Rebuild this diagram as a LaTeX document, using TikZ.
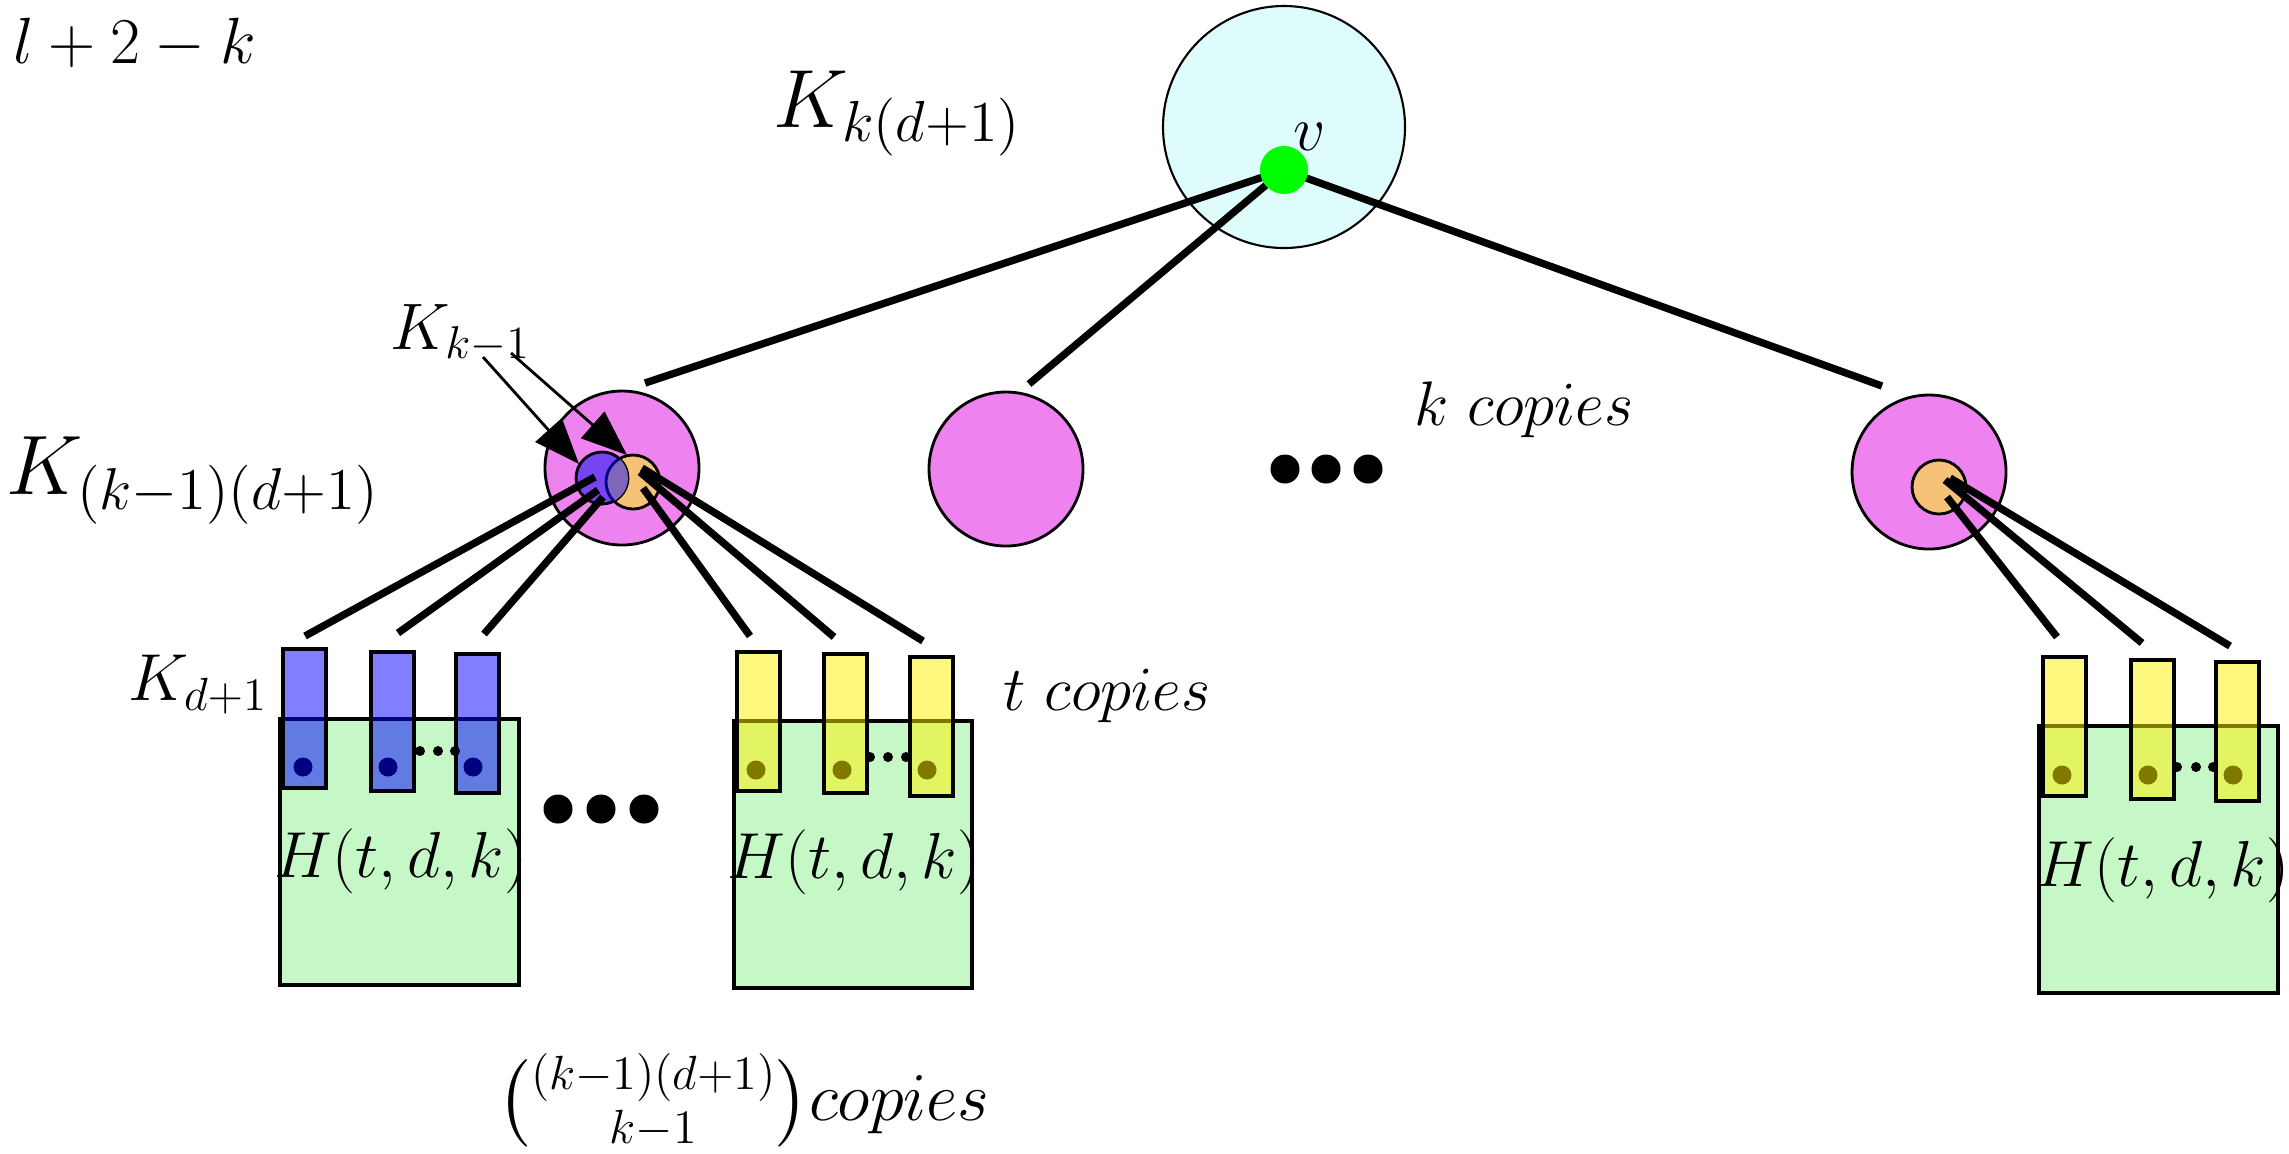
\RequirePackage{fix-cm}
\documentclass[tikz,border=0pt]{standalone}
\usepackage{amsmath}
\usetikzlibrary{arrows.meta}
\newlength\pxu \setlength\pxu{0.01cm}
\newcommand\setfs[1]{\fontsize{#1}{#1}\selectfont}
\definecolor{capcyan}{RGB}{223,252,252}
\definecolor{pinkv}{RGB}{238,130,238}
\definecolor{blueK}{RGB}{118,68,240}
\definecolor{orangeK}{RGB}{246,194,120}
\definecolor{mixK}{RGB}{128,102,186}
\definecolor{boxgreen}{RGB}{198,247,198}
\definecolor{navyline}{RGB}{0,0,128}
\begin{document}
\begin{tikzpicture}[x=1\pxu,y=-1\pxu,
  disc/.style={circle,draw=black,inner sep=0pt,minimum size=#1},
  edgeline/.style={line width=2.1pt,black},
  pointer/.style={line width=0.8pt,-{Triangle[length=13pt,width=10pt]}},
  hbox/.style={rectangle,draw=black,line width=1pt,fill=boxgreen,anchor=north west,inner sep=0pt},
  bluebar/.style={rectangle,draw=black,line width=1pt,fill=blue,fill opacity=0.5,anchor=north west,inner sep=0pt,minimum width=43\pxu,minimum height=139\pxu},
  yellowbar/.style={rectangle,draw=black,line width=1pt,fill=yellow,fill opacity=0.5,anchor=north west,inner sep=0pt,minimum width=43\pxu,minimum height=139\pxu},
  lbl/.style={inner sep=0pt,anchor=base west}
]
\useasboundingbox (0,0) rectangle (2289,1153);

% top clique with the vertex v
\node[disc=242\pxu,fill=capcyan,line width=0.6pt] (top) at (1284,127) {};
\coordinate (t1) at (645,383);
\coordinate (t2) at (1029,384);
\coordinate (t3) at (1882,386);
\coordinate (vc) at (1284,170);
\draw[edgeline] (vc) -- (t1);
\draw[edgeline] (vc) -- (t2);
\draw[edgeline] (vc) -- (t3);
\node[circle,fill=green,inner sep=0pt,minimum size=48\pxu] (v) at (vc) {};

% the k copies of the middle cliques
\node[disc=154\pxu,fill=pinkv,line width=0.8pt] (pl) at (622,468) {};
\node[disc=154\pxu,fill=pinkv,line width=0.8pt] (pm) at (1006,469) {};
\node[disc=154\pxu,fill=pinkv,line width=0.8pt] (pr) at (1929,472) {};

% the two overlapping K_{k-1}
\node[disc=54\pxu,fill=orangeK,line width=0.8pt] (ol) at (633,482) {};
\node[disc=52\pxu,fill=blueK,line width=0.8pt] (bl) at (602,478) {};
\begin{scope}
  \clip (602,478) circle (26);
  \fill[mixK] (633,482) circle (27);
  \draw[navyline,line width=0.8pt] (633,482) circle (27);
\end{scope}
\node[disc=54\pxu,fill=orangeK,line width=0.8pt] (or) at (1939,487) {};

% pointers from the label K_{k-1}
\coordinate (a1s) at (483,357);
\coordinate (a1e) at (579,464);
\coordinate (a2s) at (511,353);
\coordinate (a2e) at (627,455);
\draw[pointer] (a1s) -- (a1e);
\draw[pointer] (a2s) -- (a2e);

% edges down to the bars
\coordinate (b1s) at (595,477); \coordinate (b1e) at (305,636);
\coordinate (b2s) at (598,490); \coordinate (b2e) at (398,633);
\coordinate (b3s) at (603,497); \coordinate (b3e) at (484,634);
\coordinate (o1s) at (643,488); \coordinate (o1e) at (750,636);
\coordinate (o2s) at (640,472); \coordinate (o2e) at (834,637);
\coordinate (o3s) at (642,468); \coordinate (o3e) at (923,641);
\coordinate (r1s) at (1947,497); \coordinate (r1e) at (2057,637);
\coordinate (r2s) at (1945,480); \coordinate (r2e) at (2142,643);
\coordinate (r3s) at (1950,478); \coordinate (r3e) at (2230,646);
\foreach \s/\e in {b1s/b1e,b2s/b2e,b3s/b3e,o1s/o1e,o2s/o2e,o3s/o3e,r1s/r1e,r2s/r2e,r3s/r3e}
  \draw[edgeline] (\s) -- (\e);

% the graphs H(t,d,k)
\node[hbox,minimum width=239\pxu,minimum height=266\pxu] (h1) at (278,717) {};
\node[hbox,minimum width=238\pxu,minimum height=267\pxu] (h2) at (732,719) {};
\node[hbox,minimum width=239\pxu,minimum height=267\pxu] (h3) at (2037,724) {};

% vertices under the bars
\foreach \x/\y in {303/767,388/767,473/767,756/770,842/770,927/770,2062/775,2148/775,2233/775}
  \fill[black] (\x,\y) circle (9.5);

% the K_{d+1} bars
\node[bluebar] (k1) at (281,647) {};
\node[bluebar] (k2) at (369,650) {};
\node[bluebar] (k3) at (454,652) {};
\node[yellowbar] (y1) at (735,650) {};
\node[yellowbar] (y2) at (822,652) {};
\node[yellowbar] (y3) at (908,655) {};
\node[yellowbar] (y4) at (2041,655) {};
\node[yellowbar] (y5) at (2129,658) {};
\node[yellowbar] (y6) at (2214,660) {};

% small dots between bars
\foreach \x/\y in {420/751,438/751,455/751,870/757,888/757,906/757,2177/767,2196/767,2213/767}
  \fill[black] (\x,\y) circle (5);

% big dots
\foreach \x/\y in {558/809,601/809,644/809,1285/469,1326/469,1368/469}
  \fill[black] (\x,\y) circle (14.5);

% labels
\node[lbl] (lnum) at (13,63) {\setfs{18.6}$l+2-k$};
\node[lbl] (lkd) at (773,127) {\setfs{23.5}$K_{k(d+1)}$};
\node[lbl] (lv) at (1293,150) {\setfs{18}$v$};
\node[lbl] (lkm) at (390,349) {\setfs{18.7}$K_{k-1}$};
\node[lbl] (lkkd) at (6,494) {\setfs{24}$K_{(k-1)(d+1)}$};
\node[lbl] (lkc) at (1414,425) {\setfs{17.9}$k\ copies$};
\node[lbl] (ltc) at (1003,710) {\setfs{17.9}$t\ copies$};
\node[lbl] (lkd1) at (128,700) {\setfs{18.9}$K_{d+1}$};
\node[inner sep=0pt,anchor=base] (lh1) at (401,877) {\setfs{18.5}$H(t,d,k)$};
\node[inner sep=0pt,anchor=base] (lh2) at (854,878) {\setfs{18.5}$H(t,d,k)$};
\node[inner sep=0pt,anchor=base] (lh3) at (2163,886) {\setfs{18.5}$H(t,d,k)$};
\node[lbl] (lbin) at (497,1120) {\setfs{19.5}$\binom{(k-1)(d+1)}{k-1} copies$};
\end{tikzpicture}
\end{document}
